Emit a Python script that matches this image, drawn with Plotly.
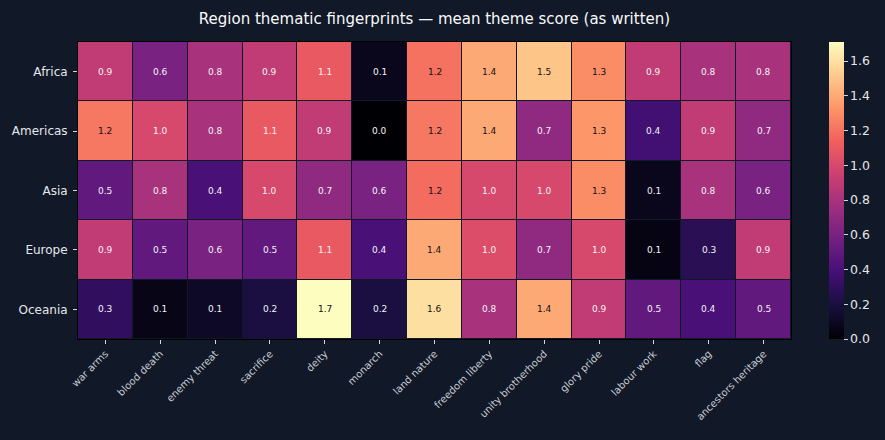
import plotly.graph_objects as go

regions = ["Africa", "Americas", "Asia", "Europe", "Oceania"]
themes = ["war arms", "blood death", "enemy threat", "sacrifice", "deity", "monarch",
          "land nature", "freedom liberty", "unity brotherhood", "glory pride",
          "labour work", "flag", "ancestors heritage"]

africa   = [0.90, 0.60, 0.80, 0.90, 1.10, 0.08, 1.20, 1.40, 1.50, 1.30, 0.90, 0.80, 0.80]
americas = [1.22, 1.00, 0.80, 1.10, 0.90, 0.00, 1.22, 1.40, 0.70, 1.33, 0.37, 0.90, 0.70]
asia     = [0.50, 0.80, 0.40, 1.00, 0.70, 0.60, 1.18, 1.00, 1.00, 1.30, 0.08, 0.80, 0.60]
europe   = [0.90, 0.50, 0.60, 0.50, 1.10, 0.40, 1.40, 1.03, 0.70, 1.00, 0.05, 0.27, 0.90]
oceania  = [0.30, 0.06, 0.12, 0.20, 1.71, 0.20, 1.60, 0.80, 1.40, 0.90, 0.50, 0.40, 0.50]

z = [africa, americas, asia, europe, oceania]
zmax = max(max(r) for r in z)

BG = "#111827"

fig = go.Figure()
fig.add_trace(go.Heatmap(
    z=z, x=themes, y=regions,
    colorscale="Magma", zmin=0, zmax=zmax,
    xgap=1, ygap=1,
    hoverinfo="skip",
    colorbar=dict(
        x=829 / 885, xanchor="left", xref="container", xpad=0,
        y=0.5, yanchor="middle", yref="paper", len=1.0, lenmode="fraction", ypad=0,
        thickness=15, outlinewidth=0,
        tickmode="array", tickvals=[0, 0.2, 0.4, 0.6, 0.8, 1.0, 1.2, 1.4, 1.6],
        ticktext=["0.0", "0.2", "0.4", "0.6", "0.8", "1.0", "1.2", "1.4", "1.6"],
        ticks="outside", ticklen=4, tickcolor="#d1d5db",
        tickfont=dict(family="DejaVu Sans", size=12.5, color="#e5e7eb"),
    ),
))

annotations = []
for i, reg in enumerate(regions):
    for j, th in enumerate(themes):
        v = z[i][j]
        annotations.append(dict(
            x=th, y=reg, text=f"{v:.1f}", showarrow=False,
            font=dict(family="DejaVu Sans", size=9,
                      color="#111111" if v >= 1.15 else "#f3f4f6"),
        ))

fig.update_layout(
    width=885, height=440,
    paper_bgcolor=BG, plot_bgcolor=BG,
    margin=dict(l=78, r=94, t=42, b=101, autoexpand=False),
    title=dict(text="Region thematic fingerprints — mean theme score (as written)",
               x=0.5, xref="paper", xanchor="center", y=0.958, yanchor="middle",
               font=dict(family="DejaVu Sans", size=15, color="#f9fafb")),
    annotations=annotations,
    font=dict(family="DejaVu Sans"),
)
fig.update_xaxes(
    tickangle=-45, ticks="outside", ticklen=4, tickcolor="#d1d5db",
    tickfont=dict(family="DejaVu Sans", size=10, color="#c9cdd4"),
    showline=True, linecolor="black", linewidth=1, mirror=True,
    showgrid=False, zeroline=False,
)
fig.update_yaxes(
    autorange="reversed", ticks="outside", ticklen=4, tickcolor="#d1d5db",
    ticklabelstandoff=3,
    tickfont=dict(family="DejaVu Sans", size=12, color="#e5e7eb"),
    showline=True, linecolor="black", linewidth=1, mirror=True,
    showgrid=False, zeroline=False,
)

fig.write_html("out.html")
